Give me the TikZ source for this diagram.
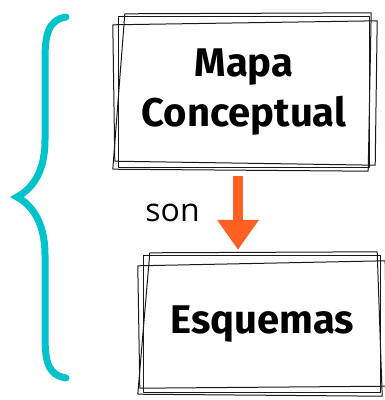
\documentclass[tikz,border=0pt]{standalone}
\usepackage{fontspec}
\setmainfont{Open Sans}
\newfontfamily\boxfont{Fira Sans}
\usetikzlibrary{arrows.meta,positioning}
\definecolor{braceblue}{HTML}{00C3CC}
\definecolor{arroworange}{HTML}{FF6122}
\tikzset{boceto/.style={draw=black!90,line width=1pt,line join=round}}
\tikzset{caja/.style={minimum width=#1,inner sep=0pt,align=center,
  font=\boxfont\bfseries\fontsize{40}{50}\selectfont}}
\begin{document}
\begin{tikzpicture}[x=1pt,y=-1pt]
\useasboundingbox (0,0) rectangle (385,400);
%
{
\draw[braceblue,line width=7pt,line cap=round]
  (66,17) .. controls (48,20) and (45,35) .. (45,60) -- (45,140)
  .. controls (45,175) and (30,190) .. (17,197)
  .. controls (30,204) and (45,220) .. (45,255) -- (45,335)
  .. controls (45,362) and (48,375) .. (66,378);
}
%
{
\node (mapa) [caja=250pt,minimum height=150pt] at (244,92) {Mapa\\Conceptual};
\foreach \a/\b/\c/\d/\e/\f/\g/\h in {0/0/0/0/0/0/0/0, -6/8/8/4/6/-2/-4/-6, 6/-3/2/-4/-1/4/-6/2}
  \draw[boceto] ([shift={(\a,\b)}]mapa.north west) -- ([shift={(\c,\d)}]mapa.north east)
    -- ([shift={(\e,\f)}]mapa.south east) -- ([shift={(\g,\h)}]mapa.south west) -- cycle;
}
%
{
\node (esquemas) [caja=236pt,minimum height=136pt] at (262,324) {Esquemas};
\foreach \a/\b/\c/\d/\e/\f/\g/\h in {0/0/0/0/0/0/0/0, -6/10/5/5/7/-6/-4/-4, 6/-3/-3/-4/2/4/-6/2}
  \draw[boceto] ([shift={(\a,\b)}]esquemas.north west) -- ([shift={(\c,\d)}]esquemas.north east)
    -- ([shift={(\e,\f)}]esquemas.south east) -- ([shift={(\g,\h)}]esquemas.south west) -- cycle;
}
%
{
\coordinate (salida) at ([xshift=-6pt,yshift=-9pt]mapa.south);
\path[-{Triangle[width=0pt 4,length=0pt 3]},arroworange,line width=10pt,line join=round]
  (salida) edge node[left=30pt,black,font=\fontsize{32}{34}\selectfont] {son}
  ([yshift=6pt]salida |- esquemas.north);
}
\end{tikzpicture}
\end{document}
